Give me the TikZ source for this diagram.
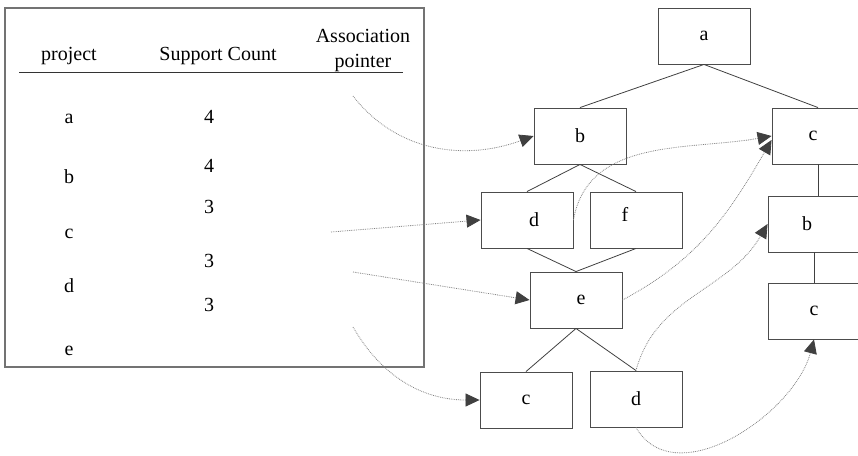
\documentclass[tikz,border=0pt]{standalone}
\usepackage{fontspec}
\setmainfont{Liberation Serif}
\usetikzlibrary{arrows.meta, positioning}

\begin{document}
\begin{tikzpicture}[
        x=1pt, y=1pt,
        font=\fontsize{20}{25}\selectfont,
        box/.style={draw=black!70, line width=0.9pt, minimum width=92pt, minimum height=56pt, inner sep=0pt},
        edge/.style={draw=black!75, line width=0.8pt},
        ptr/.style={-{Triangle[length=14pt, width=13pt, fill=black!75, color=black!75]}, draw=black!50, densely dotted, line width=0.8pt},
        cell/.style={anchor=base}
    ]
    \useasboundingbox (0,0) rectangle (858,-455);

    % table
    \draw[black!55, line width=1.2pt] (5,-8) rectangle (424,-367);
    \draw[black!80, line width=0.8pt] (19,-72) -- (403,-72);
    \node[cell] (hproj) at (69,-60) {project};
    \node[cell] (hcount) at (218,-60) {Support Count};
    \node[anchor=base, align=center] (hptr) at (363,-67) {Association\\pointer};

    \foreach \name/\y in {a/123, b/183, c/238, d/292, e/355}
        \node[cell] (item\name) at (69,-\y) {\name};
    \foreach \i/\n/\y in {1/4/123, 2/4/172, 3/3/213, 4/3/267, 5/3/311}
        \node[cell] (count\i) at (209,-\y) {\n};

    \coordinate (ptra) at (353,-96);
    \coordinate (ptrc) at (331,-232);
    \coordinate (ptrd) at (353,-272);
    \coordinate (ptre) at (353,-327);

    % tree
    \node[box] (a)  at (704,-36)  {a};
    \node[box] (b1) at (580,-136) {b};
    \node[box] (c2) at (818,-136) {\hspace{-10pt}c};
    \node[box] (d1) at (527,-220) {\raisebox{-8pt}{\hspace{14pt}d}};
    \node[box] (f1) at (636,-220) {\raisebox{12pt}{f\hspace{22pt}}};
    \node[box] (b2) at (814,-224) {\hspace{-14pt}b};
    \node[box] (e1) at (576,-300) {\hspace{10pt}e};
    \node[box] (c3) at (814,-311) {c};
    \node[box] (c1) at (526,-400) {c};
    \node[box] (d2) at (636,-399) {d};

    \draw[edge] (a.south) -- (b1.north);
    \draw[edge] (a.south) -- (c2.north);
    \draw[edge] (b1.south) -- (d1.north);
    \draw[edge] (b1.south) -- (f1.north);
    \draw[edge] (d1.south) -- (e1.north);
    \draw[edge] (f1.south) -- (e1.north);
    \draw[edge] (e1.south) -- (c1.north);
    \draw[edge] (e1.south) -- (d2.north);
    \draw[edge] (c2.south) -- (c2.south |- b2.north);
    \draw[edge] (b2.south) -- (c3.north);

    % pointers
    \draw[ptr] (ptra) to[out=-52, in=200] (b1.west);
    \draw[ptr] (ptrc) -- (d1.west);
    \draw[ptr] (ptrd) -- (e1.west);
    \draw[ptr] (ptre) to[out=-60, in=180] (c1.west);
    \draw[ptr] (d1.east) to[out=80, in=190] (c2.west);
    \draw[ptr] (e1.east) to[out=28, in=240] ([yshift=-4pt]c2.west);
    \draw[ptr] (d2.north) to[out=75, in=240] (b2.west);
    \draw[ptr] (d2.south) to[out=-60, in=-105] (c3.south);
\end{tikzpicture}
\end{document}
